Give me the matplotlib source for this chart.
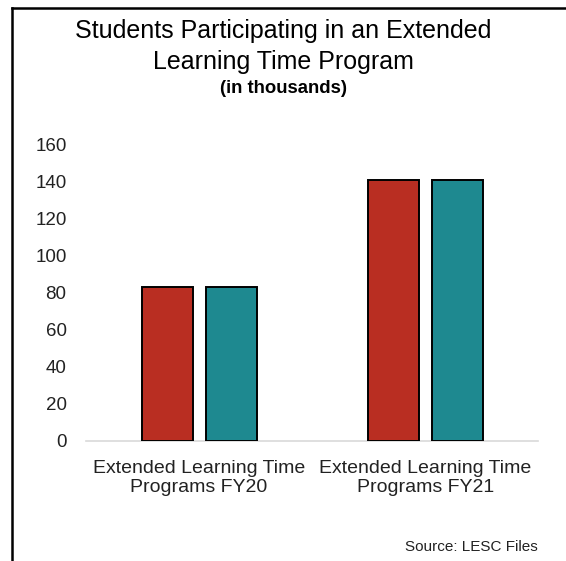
import matplotlib
matplotlib.use("Agg")
import matplotlib.pyplot as plt
import numpy as np
from matplotlib.lines import Line2D

categories = ["Extended Learning Time\nPrograms FY20", "Extended Learning Time\nPrograms FY21"]
series_a = [83, 141]
series_b = [83, 141]
yticks = [0, 20, 40, 60, 80, 100, 120, 140, 160]

plt.rcParams["font.family"] = ["Liberation Sans", "DejaVu Sans"]

fig = plt.figure(figsize=(5.66, 5.61), dpi=100)
ax = fig.add_axes([0.152, 0.214, 0.799, 0.528])

x = np.arange(len(categories))
w = 0.226
off = 0.1416
ax.bar(x - off, series_a, w, color="#B92E22", edgecolor="black", linewidth=1.4, zorder=3)
ax.bar(x + off, series_b, w, color="#1E8990", edgecolor="black", linewidth=1.4, zorder=3)

ax.set_xlim(-0.5, 1.5)
ax.set_ylim(0, 160)
ax.set_yticks(yticks)
ax.set_xticks(x)
ax.set_xticklabels(categories, fontsize=14, color="#222222", linespacing=1.1)
ax.tick_params(axis="y", labelsize=13.5, length=0, pad=14, labelcolor="#222222")
ax.tick_params(axis="x", length=0, pad=14)
for s in ["top", "right", "left"]:
    ax.spines[s].set_visible(False)
ax.spines["bottom"].set_color("#d9d9d9")
ax.spines["bottom"].set_linewidth(1.2)

fig.text(0.5, 0.945, "Students Participating in an Extended", ha="center", va="center", fontsize=18)
fig.text(0.5, 0.889, "Learning Time Program", ha="center", va="center", fontsize=18)
fig.text(0.5, 0.842, "(in thousands)", ha="center", va="center", fontsize=13.3, fontweight="bold")
fig.text(0.95, 0.025, "Source: LESC Files", ha="right", va="center", fontsize=11, color="#222222")

# frame lines on the left and top
fig.add_artist(Line2D([12 / 566, 12 / 566], [0, 1 - 8 / 561], transform=fig.transFigure, color="black", linewidth=1.8))
fig.add_artist(Line2D([12 / 566, 1], [1 - 8 / 561, 1 - 8 / 561], transform=fig.transFigure, color="black", linewidth=1.8))

fig.savefig("out.png", dpi=100)
